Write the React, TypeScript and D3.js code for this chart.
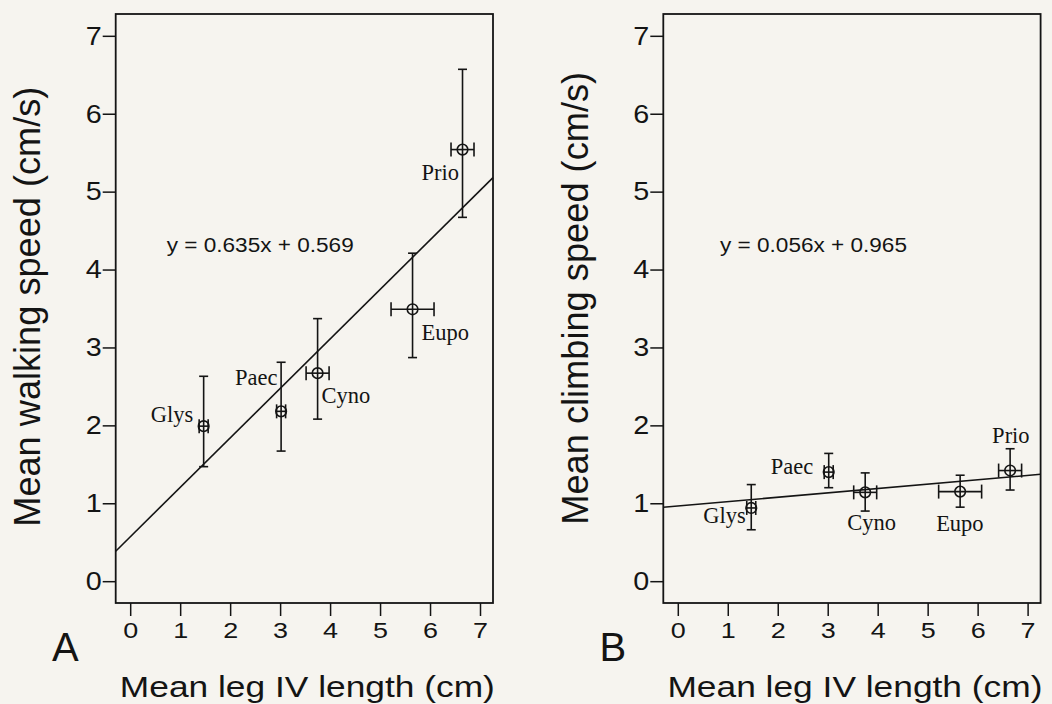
import React, { useRef, useEffect } from 'react';
import * as d3 from 'd3';

// species order as plotted
const species = ['Glys', 'Paec', 'Cyno', 'Eupo', 'Prio'];
const legLength = [1.47, 3.02, 3.75, 5.65, 6.65];
const legErr = [0.09, 0.09, 0.23, 0.43, 0.23];

const walkSpeed = [1.99, 2.18, 2.67, 3.49, 5.54];
const walkLo = [1.47, 1.67, 2.08, 2.87, 4.67];
const walkHi = [2.63, 2.81, 3.37, 4.21, 6.57];

const climbSpeed = [0.94, 1.40, 1.14, 1.15, 1.42];
const climbLo = [0.66, 1.20, 0.90, 0.95, 1.17];
const climbHi = [1.24, 1.64, 1.39, 1.36, 1.70];

const walkFit = [0.635, 0.569];
const climbFit = [0.056, 0.965];

const xTicks = [0, 1, 2, 3, 4, 5, 6, 7];
const yTicks = [0, 1, 2, 3, 4, 5, 6, 7];

// label offsets (px from the point) for each panel
const walkLabelOff = [[-53, -4], [-46, -26], [4, 30], [9, 31], [-41, 30]];
const climbLabelOff = [[-48, 15], [-58, 2], [-18, 38], [-24, 39], [-18, -28]];

const W = 1052, H = 704;
const boxW = 377.3, boxH = 589, boxTop = 14;
const ink = '#141414';
const sans = '"Liberation Sans", Arial, sans-serif';
const serif = '"Liberation Serif", "Times New Roman", serif';

function Panel({ left, letter, yTitle, yTitleX, yTitleY, yTitleLen, eq, eqX, mean, lo, hi, fit, labelOff }) {
  const xAxisRef = useRef(null);
  const yAxisRef = useRef(null);

  const x = d3.scaleLinear().domain([-0.29, 7.26]).range([0, boxW]);
  const y = d3.scaleLinear().domain([-0.28, 7.28]).range([boxH, 0]);

  useEffect(() => {
    const gx = d3.select(xAxisRef.current);
    gx.selectAll('*').remove();
    gx.call(d3.axisBottom(x).tickValues(xTicks).tickSize(13).tickPadding(6).tickFormat(d3.format('d')));
    gx.select('.domain').remove();
    gx.selectAll('line').attr('stroke', ink).attr('stroke-width', 1.5);
    gx.selectAll('text')
      .attr('font-family', sans).attr('font-size', 22).attr('fill', ink)
      .attr('textLength', 15).attr('lengthAdjust', 'spacingAndGlyphs');

    const gy = d3.select(yAxisRef.current);
    gy.selectAll('*').remove();
    gy.call(d3.axisLeft(y).tickValues(yTicks).tickSize(13).tickPadding(1).tickFormat(d3.format('d')));
    gy.select('.domain').remove();
    gy.selectAll('line').attr('stroke', ink).attr('stroke-width', 1.5);
    gy.selectAll('text')
      .attr('font-family', sans).attr('font-size', 26).attr('fill', ink)
      .attr('textLength', 16).attr('lengthAdjust', 'spacingAndGlyphs');
  }, []);

  const fitLine = d3.line()
    .x(d => x(d[0]))
    .y(d => y(d[1]));
  const xs = x.domain();
  const fitData = xs.map(v => [v, fit[0] * v + fit[1]]);

  return (
    <g transform={`translate(${left},${boxTop})`}>
      <rect x={0} y={0} width={boxW} height={boxH} fill="none" stroke={ink} strokeWidth={1.8} />
      <g ref={xAxisRef} transform={`translate(0,${boxH})`} />
      <g ref={yAxisRef} />
      <path d={fitLine(fitData)} fill="none" stroke={ink} strokeWidth={1.6} />
      {species.map((s, i) => {
        const cx = x(legLength[i]);
        const cy = y(mean[i]);
        const x0 = x(legLength[i] - legErr[i]);
        const x1 = x(legLength[i] + legErr[i]);
        const y0 = y(lo[i]);
        const y1 = y(hi[i]);
        return (
          <g key={s} stroke={ink} strokeWidth={1.6} fill="none">
            <line x1={cx} x2={cx} y1={y0} y2={y1} />
            <line x1={cx - 4.5} x2={cx + 4.5} y1={y0} y2={y0} />
            <line x1={cx - 4.5} x2={cx + 4.5} y1={y1} y2={y1} />
            <line x1={x0} x2={x1} y1={cy} y2={cy} />
            <line x1={x0} x2={x0} y1={cy - 7} y2={cy + 7} />
            <line x1={x1} x2={x1} y1={cy - 7} y2={cy + 7} />
            <circle cx={cx} cy={cy} r={5.3} />
            <text x={cx + labelOff[i][0]} y={cy + labelOff[i][1]} stroke="none" fill={ink}
              fontFamily={serif} fontSize={22.5}>{s}</text>
          </g>
        );
      })}
      <text x={eqX} y={237.7} fontFamily={sans} fontSize={20} fill={ink}
        textLength={187} lengthAdjust="spacingAndGlyphs">{eq}</text>
      <text x={-63.7} y={647} fontFamily={sans} fontSize={40} fill={ink}>{letter}</text>
      <text x={boxW / 2 + 3} y={682.7} textAnchor="middle" fontFamily={sans} fontSize={29} fill={ink}
        textLength={375} lengthAdjust="spacingAndGlyphs">Mean leg IV length (cm)</text>
      <text transform={`translate(${yTitleX},${yTitleY}) rotate(-90)`} textAnchor="middle"
        fontFamily={sans} fontSize={36} fill={ink} textLength={yTitleLen} lengthAdjust="spacingAndGlyphs">{yTitle}</text>
    </g>
  );
}

export default function App() {
  return (
    <div style={{ position: 'absolute', left: 0, top: 0, width: W, height: H, background: '#f6f4ef' }}>
      <svg width={W} height={H}>
        <rect width={W} height={H} fill="#f6f4ef" />
        <Panel left={115.7} letter="A" yTitle="Mean walking speed (cm/s)"
          yTitleX={40 - 115.7} yTitleY={306.7 - boxTop} yTitleLen={440}
          eq="y = 0.635x + 0.569" eqX={166.7 - 115.7}
          mean={walkSpeed} lo={walkLo} hi={walkHi} fit={walkFit} labelOff={walkLabelOff} />
        <Panel left={663.3} letter="B" yTitle="Mean climbing speed (cm/s)"
          yTitleX={588 - 663.3} yTitleY={298.3 - boxTop} yTitleLen={453}
          eq="y = 0.056x + 0.965" eqX={720 - 663.3}
          mean={climbSpeed} lo={climbLo} hi={climbHi} fit={climbFit} labelOff={climbLabelOff} />
      </svg>
    </div>
  );
}
